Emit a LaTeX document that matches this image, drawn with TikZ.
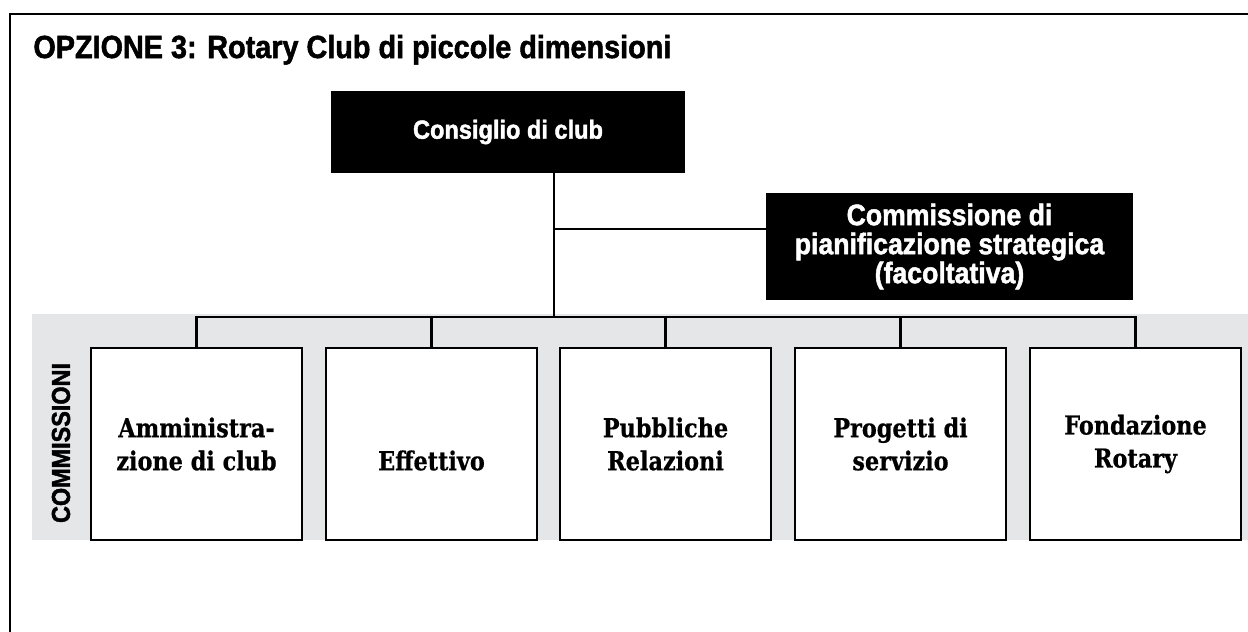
\documentclass[tikz,border=0pt]{standalone}
\usepackage{fontspec}
\setmainfont[FakeStretch=0.86,BoldFeatures={FakeBold=0.6}]{DejaVu Serif}
\newfontfamily\condsans[FakeStretch=0.9,BoldFeatures={FakeBold=1.6}]{Liberation Sans}
\definecolor{bandgray}{RGB}{229,230,232}

\begin{document}
\begin{tikzpicture}[x=0.5pt,y=-0.5pt,
        darkbox/.style={fill=black,text=white,inner sep=0pt,align=center},
        commbox/.style={draw=black,line width=0.75pt,fill=white,minimum width=105.5pt,
            minimum height=96pt,inner sep=0pt,align=center,
            font=\fontsize{13}{16.5}\selectfont\bfseries},
        link/.style={line width=1.3pt}]
    \useasboundingbox (0,0) rectangle (1248,632);
    %% frame, open to the right and bottom
    \draw[line width=1.2pt] (10,632) -- (10,14) -- (1248,14);
    %% title
    \node[anchor=base west,inner sep=0pt,font=\condsans\bfseries\fontsize{16}{18}\selectfont]
        (title) at (33,58) {OPZIONE 3: Rotary Club di piccole dimensioni};
    %% board and planning committee
    \node[darkbox,minimum width=177pt,minimum height=41pt,
        font=\condsans\bfseries\fontsize{13.1}{14}\selectfont] (board) at (508,132) {Consiglio di club};
    \node[darkbox,minimum width=183.5pt,minimum height=53.5pt,
        font=\condsans\bfseries\fontsize{14.8}{14.5}\selectfont] (plan) at (949.5,246.5)
        {Commissione di\\pianificazione strategica\\(facoltativa)};
    %% grey band
    \fill[bandgray] (32,314) rectangle (1248,540);
    \node[rotate=90,inner sep=0pt,font=\condsans\bfseries\fontsize{13}{14}\selectfont]
        (band) at (61,443) {COMMISSIONI};
    %% committees
    \foreach \name/\cx/\txt in {amm/196.5/{Amministra-\\zione di club},
            eff/431.5/{\vphantom{Pb}\\Effettivo}, pub/665.5/{Pubbliche\\Relazioni},
            prog/900.5/{Progetti di\\servizio}, fond/1135.5/{Fondazione\\Rotary}}
        \node[commbox] (\name) at (\cx,444) {\txt};
    %% connectors
    \coordinate (trunk) at (554,317);
    \coordinate (branch) at (554,229);
    \draw[link] (board.south -| trunk) -- (trunk);
    \draw[link] (branch) -- (branch -| plan.west);
    \draw[link] (amm.north) -- (amm.north |- trunk) -- (fond.north |- trunk) -- (fond.north);
    \foreach \name in {eff,pub,prog}
        \draw[link] (\name.north) -- (\name.north |- trunk);
\end{tikzpicture}
\end{document}
